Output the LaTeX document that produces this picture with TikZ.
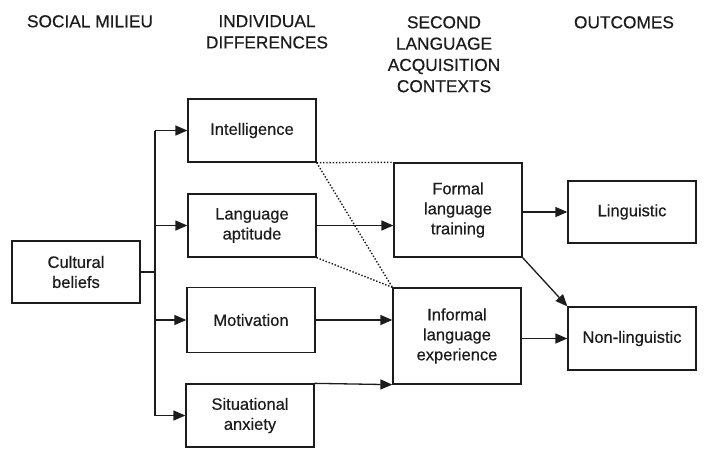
\documentclass[tikz,border=0pt]{standalone}
\usepackage{fontspec}
\setmainfont{Liberation Sans}
\newfontfamily\inkfont{Liberation Sans}[FakeBold=0.45]
\usetikzlibrary{arrows.meta}
\definecolor{ink}{HTML}{1c1c1c}
\begin{document}
\begin{tikzpicture}[x=1pt,y=-1pt,
  box/.style={draw=ink, line width=1.3pt, minimum width=128pt, inner sep=2pt, align=center,
    font=\inkfont\fontsize{16.5}{20}\selectfont, text=ink},
  head/.style={anchor=north, inner sep=0pt, align=center, font=\inkfont\fontsize{17.3}{21.3}\selectfont, text=ink},
  conn/.style={draw=ink, line width=1.3pt},
  arr/.style={conn, -{Triangle[length=12pt,width=10pt]}},
  dotln/.style={draw=ink, line width=1.4pt, dash pattern=on 1.4pt off 1.8pt}]
\fill[white] (0,0) rectangle (727,456);
\useasboundingbox (0,0) rectangle (727,456);

% headers
\node[head] (h1) at (90,15) {SOCIAL MILIEU};
\node[head] (h2) at (267,15) {INDIVIDUAL\\DIFFERENCES};
\node[head] (h3) at (444,16) {SECOND\\LANGUAGE\\ACQUISITION\\CONTEXTS};
\node[head] (h4) at (624,16) {OUTCOMES};

% boxes
\node[box, minimum height=62pt] (cult) at (76,272) {Cultural\\beliefs};
\node[box, minimum height=63pt] (intel) at (252,130.5) {Intelligence};
\node[box, minimum height=63pt] (apt) at (252,225.5) {Language\\aptitude};
\node[box, minimum height=65pt] (motiv) at (251,320) {Motivation};
\node[box, minimum height=63pt] (anx) at (250,415.5) {Situational\\anxiety};
\node[box, minimum height=94pt] (formal) at (458,210) {Formal\\language\\training};
\node[box, minimum height=96pt] (informal) at (457,336) {Informal\\language\\experience};
\node[box, minimum height=62pt] (ling) at (632,212) {Linguistic};
\node[box, minimum height=63pt] (nonling) at (632,338.5) {Non-linguistic};

% connectors
\coordinate (bus) at (155,272);
\draw[conn] (cult.east) -- (bus);
\draw[conn] (bus |- intel.west) -- (bus |- anx.west);
\draw[arr] (bus |- intel.west) -- (intel.west);
\draw[arr] (bus |- apt.west) -- (apt.west);
\draw[arr] (bus |- motiv.west) -- (motiv.west);
\draw[arr] (bus |- anx.west) -- (anx.west);

\draw[arr] (apt.east) -- (apt.east -| formal.west);
\draw[arr] (motiv.east) -- (motiv.east -| informal.west);
\draw[arr] (anx.north east) -- (informal.south west);

\draw[dotln] (intel.south east) -- (formal.north west);
\draw[dotln] (intel.south east) -- (informal.north west);
\draw[dotln] (apt.south east) -- (informal.north west);

\draw[arr] (formal.east |- ling.west) -- (ling.west);
\draw[arr] (formal.south east) -- (nonling.north west);
\draw[arr] (informal.east |- nonling.west) -- (nonling.west);
\end{tikzpicture}
\end{document}
